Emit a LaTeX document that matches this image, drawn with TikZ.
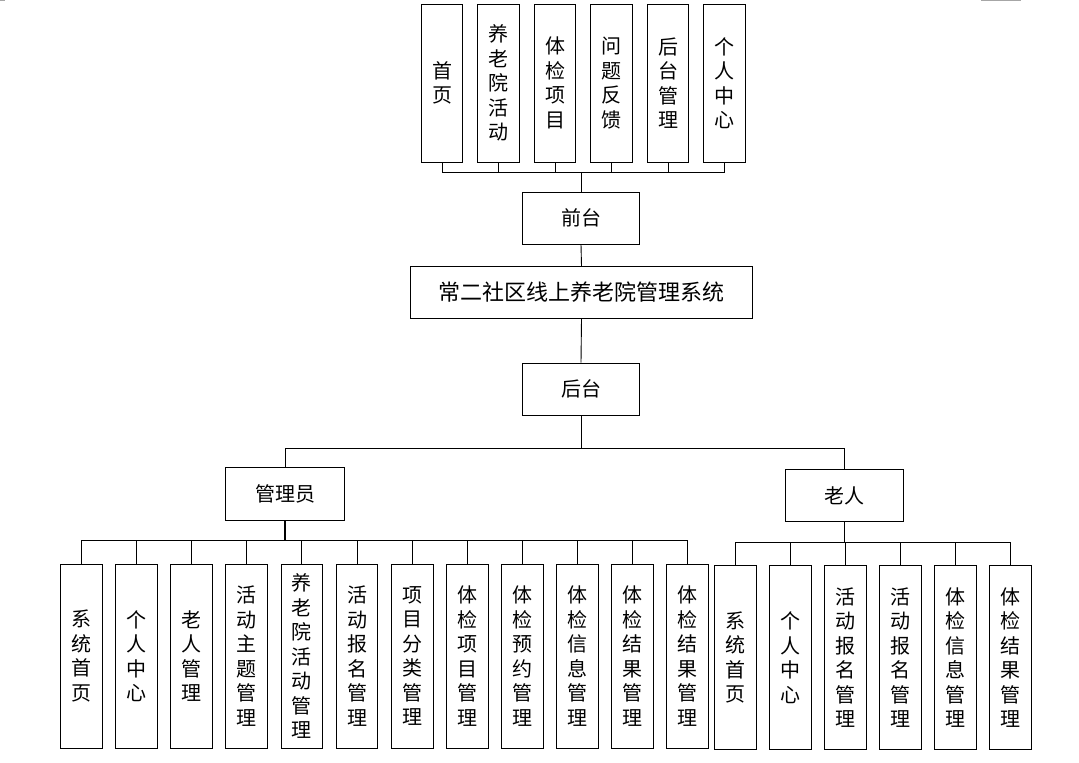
\documentclass[tikz,border=0pt]{standalone}
\usepackage{fontspec}
\newfontfamily\cjk{Noto Sans CJK SC}
\tikzset{
  box/.style={draw=black, line width=1pt, inner sep=0pt, align=center,
    font=\cjk\fontsize{20}{24.5}\selectfont},
  tallbox/.style={box, minimum width=41.5pt, minimum height=158pt},
  lowbox/.style={box, minimum width=41.8pt, minimum height=184pt},
  widebox/.style={box, minimum width=117.5pt, minimum height=52pt},
  conn/.style={draw=black, line width=0.9pt},
}
\begin{document}
\begin{tikzpicture}[x=1pt,y=-1pt]
\useasboundingbox (0,0) rectangle (1079,763);
% faint artifacts at top edge
\draw[gray!70, line width=1.5pt] (981,0.6) -- (1021,0.6);
\draw[gray!70, line width=1.5pt] (0,0.6) -- (5,0.6);

% top row
\node[tallbox] (t1) at (442.2,83) {首\\页};
\node[tallbox] (t2) at (498.5,83) {养\\老\\院\\活\\动};
\node[tallbox] (t3) at (555.2,83) {体\\检\\项\\目};
\node[tallbox] (t4) at (611.5,83) {问\\题\\反\\馈};
\node[tallbox] (t5) at (668,83) {后\\台\\管\\理};
\node[tallbox] (t6) at (724.5,83) {个\\人\\中\\心};

\node[widebox] (qt) at (581,218) {前台};
\node[box, minimum width=341.5pt, minimum height=51.6pt,
      font=\cjk\fontsize{22}{24}\selectfont] (sys) at (581.5,292.5) {常二社区线上养老院管理系统};
\node[widebox] (ht) at (581,389) {后台};

\node[box, minimum width=118.6pt, minimum height=52.3pt] (adm) at (285,494) {管理员};
\node[box, minimum width=118pt, minimum height=52.4pt] (old) at (844.3,495.5) {老人};

% admin children
\node[lowbox] (a1) at (81.5,656) {系\\统\\首\\页};
\node[lowbox] (a2) at (136.6,656) {个\\人\\中\\心};
\node[lowbox] (a3) at (191.7,656) {老\\人\\管\\理};
\node[lowbox] (a4) at (246.8,656) {活\\动\\主\\题\\管\\理};
\node[lowbox] (a5) at (301.9,656) {养\\老\\院\\活\\动\\管\\理};
\node[lowbox] (a6) at (357,656) {活\\动\\报\\名\\管\\理};
\node[lowbox] (a7) at (412.1,656) {项\\目\\分\\类\\管\\理};
\node[lowbox] (a8) at (467.2,656) {体\\检\\项\\目\\管\\理};
\node[lowbox] (a9) at (522.3,656) {体\\检\\预\\约\\管\\理};
\node[lowbox] (a10) at (577.4,656) {体\\检\\信\\息\\管\\理};
\node[lowbox] (a11) at (632.5,656) {体\\检\\结\\果\\管\\理};
\node[lowbox] (a12) at (687.6,656) {体\\检\\结\\果\\管\\理};

% elder children
\node[lowbox] (e1) at (735.5,657.5) {系\\统\\首\\页};
\node[lowbox] (e2) at (790.6,657.5) {个\\人\\中\\心};
\node[lowbox] (e3) at (845.6,657.5) {活\\动\\报\\名\\管\\理};
\node[lowbox] (e4) at (900.6,657.5) {活\\动\\报\\名\\管\\理};
\node[lowbox] (e5) at (955.6,657.5) {体\\检\\信\\息\\管\\理};
\node[lowbox] (e6) at (1010.8,657.5) {体\\检\\结\\果\\管\\理};

% connectors
\coordinate (tbus) at (581,172);
\foreach \i in {1,...,6} {\draw[conn] (t\i.south) |- (tbus);}
\draw[conn] (tbus) -- (qt.north);
\draw[conn] (qt.south) -- (sys.north);
\draw[conn] (sys.south) -- (ht.north);
\coordinate (hbus) at (581,448.5);
\draw[conn] (ht.south) -- (hbus);
\draw[conn] (hbus) -| (adm.north);
\draw[conn] (hbus) -| (old.north);
\coordinate (abus) at (285,540);
\foreach \i in {1,...,12} {\draw[conn] (a\i.north) |- (abus);}
\draw[conn, line width=1.4pt] (adm.south) -- (abus);
\coordinate (ebus) at (844.3,542);
\foreach \i in {1,...,6} {\draw[conn] (e\i.north) |- (ebus);}
\draw[conn, line width=1.4pt] (old.south) -- (ebus);
\end{tikzpicture}
\end{document}
